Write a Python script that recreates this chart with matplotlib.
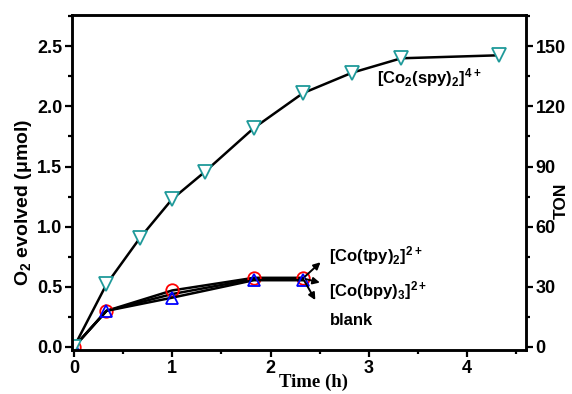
import matplotlib.pyplot as plt

plt.rcParams['font.family'] = ['Liberation Sans', 'DejaVu Sans']
plt.rcParams['mathtext.default'] = 'regular'

# данные
t_spy = [0, 0.33, 0.67, 1.0, 1.33, 1.83, 2.33, 2.83, 3.33, 4.33]
o2_spy = [0.0, 0.52, 0.905, 1.23, 1.455, 1.82, 2.11, 2.28, 2.40, 2.425]
t_other = [0, 0.33, 1.0, 1.83, 2.33]
o2_tpy = [0.0, 0.30, 0.47, 0.575, 0.575]
o2_bpy = [0.0, 0.30, 0.41, 0.555, 0.555]
o2_blank = [0.0, 0.30, 0.44, 0.565, 0.565]

ton_per_umol = 60

fig = plt.figure(figsize=(5.72, 3.94), dpi=100)
ax = fig.add_axes([0.1259, 0.1117, 0.7937, 0.8503])

ax.plot(t_other, o2_blank, '-', color='k', lw=1.8)
ax.plot(t_other, o2_tpy, '-o', color='k', lw=1.8, ms=9, mfc='none', mec='red', mew=1.3)
ax.plot(t_other, o2_bpy, '-^', color='k', lw=1.8, ms=9, mfc='none', mec='blue', mew=1.3)
ax.plot(t_spy, o2_spy, '-v', color='k', lw=1.8, ms=10, mfc='white', mec='#1f9a9a', mew=1.3)

ax.set_xlim(-0.02, 4.6)
ax.set_ylim(-0.025, 2.76)
ax.set_xticks([0, 1, 2, 3, 4])
ax.set_xticks([0.5, 1.5, 2.5, 3.5, 4.5], minor=True)
ax.set_yticks([0, 0.5, 1.0, 1.5, 2.0, 2.5])
ax.set_yticks([0.25, 0.75, 1.25, 1.75, 2.25, 2.75], minor=True)
ax.set_yticklabels(['0.0', '0.5', '1.0', '1.5', '2.0', '2.5'])
ax.tick_params(which='both', direction='out', width=1.6, labelsize=13, pad=2)
ax.tick_params(which='major', length=5)
ax.tick_params(which='minor', length=3)
for lbl in ax.get_xticklabels() + ax.get_yticklabels():
    lbl.set_fontweight('bold')
for s in ax.spines.values():
    s.set_linewidth(1.8)

ax.set_xlabel('Time (h)', fontsize=13.5, fontweight='bold', family='Liberation Serif')
ax.xaxis.set_label_coords(0.531, -0.072)
ax.set_ylabel(r'O$_2$ evolved ($\mu$mol)', fontsize=14, fontweight='bold')
ax.yaxis.set_label_coords(-0.083, 0.44)

ax2 = ax.twinx()
ax2.set_ylim(-0.025 * ton_per_umol, 2.76 * ton_per_umol)
ax2.set_yticks([0, 30, 60, 90, 120, 150])
ax2.set_yticks([15, 45, 75, 105, 135, 165], minor=True)
ax2.tick_params(which='both', direction='out', width=1.6, labelsize=13, pad=2)
ax2.tick_params(which='major', length=5)
ax2.tick_params(which='minor', length=3)
for lbl in ax2.get_yticklabels():
    lbl.set_fontweight('bold')
ax2.set_ylabel('TON', fontsize=12.5, fontweight='bold')
ax2.yaxis.set_label_coords(1.062, 0.445)
for s in ax2.spines.values():
    s.set_linewidth(1.8)

# подписи
ax.text(3.08, 2.24, r'[Co$_2$(spy)$_2$]$^{4+}$', fontsize=12, fontweight='bold', ha='left', va='center')
ax.text(2.6, 0.76, r'[Co(tpy)$_2$]$^{2+}$', fontsize=12, fontweight='bold', ha='left', va='center')
ax.text(2.6, 0.47, r'[Co(bpy)$_3$]$^{2+}$', fontsize=12, fontweight='bold', ha='left', va='center')
ax.text(2.6, 0.22, 'blank', fontsize=12, fontweight='bold', ha='left', va='center')

for end in [(2.53, 0.72), (2.53, 0.53), (2.47, 0.37)]:
    ax.annotate('', xy=end, xytext=(2.33, 0.57),
                arrowprops=dict(arrowstyle='-|>', color='k', lw=1.4, mutation_scale=10))

fig.savefig('out.png', dpi=100)
